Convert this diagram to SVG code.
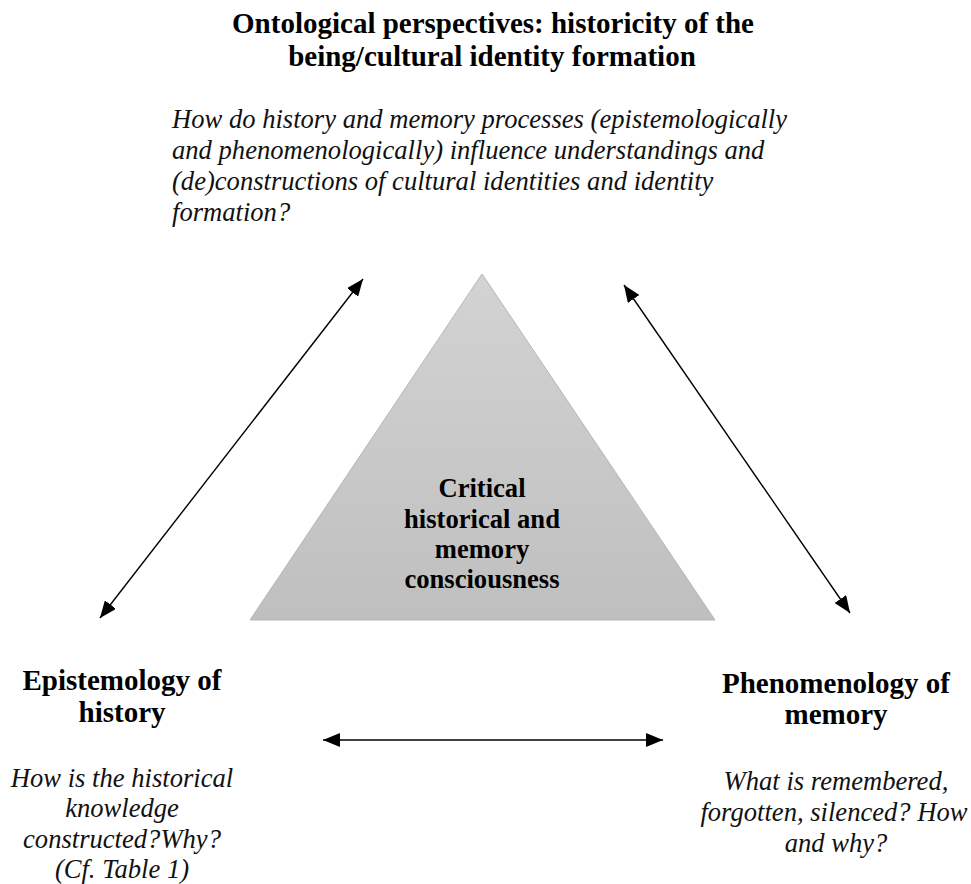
<svg xmlns="http://www.w3.org/2000/svg" width="971" height="884" viewBox="0 0 971 884">
<style>
.b{font-family:"Liberation Serif","Times New Roman",serif;font-weight:bold;fill:#000;text-anchor:middle}
.i{font-family:"Liberation Serif","Times New Roman",serif;font-style:italic;fill:#111}
.c{text-anchor:middle}
.ln{stroke:#000;stroke-width:1.4;fill:none}
</style>
<defs>
<linearGradient id="g" x1="0" y1="0" x2="0" y2="1">
<stop offset="0" stop-color="#d3d3d3"/>
<stop offset="1" stop-color="#bfbfbf"/>
</linearGradient>
<marker id="ah" viewBox="0 0 17 14" refX="17" refY="7" markerWidth="17" markerHeight="14" markerUnits="userSpaceOnUse" orient="auto-start-reverse">
<path d="M0,0 L17,7 L0,14 z" fill="#000"/>
</marker>
</defs>
<rect width="971" height="884" fill="#fff"/>
<g id="ontology">
<text class="b" font-size="29" x="493" y="33">Ontological perspectives: historicity of the</text>
<text class="b" font-size="29" x="492" y="66">being/cultural identity formation</text>
<text class="i" font-size="26.6" x="172" y="128">How do history and memory processes (epistemologically</text>
<text class="i" font-size="26.6" x="172" y="159">and phenomenologically) influence understandings and</text>
<text class="i" font-size="26.6" x="172" y="190">(de)constructions of cultural identities and identity</text>
<text class="i" font-size="26.6" x="172" y="221">formation?</text>
</g>
<g id="consciousness">
<polygon points="482,274 715,620 250,620" fill="url(#g)" stroke="#b5b5b5" stroke-width="1"/>
<text class="b" font-size="26.6" x="482" y="497">Critical</text>
<text class="b" font-size="26.6" x="482" y="528">historical and</text>
<text class="b" font-size="26.6" x="482" y="558">memory</text>
<text class="b" font-size="26.6" x="482" y="588">consciousness</text>
</g>
<g id="epistemology">
<text class="b" font-size="29" x="122" y="690">Epistemology of</text>
<text class="b" font-size="29" x="122" y="722">history</text>
<text class="i c" font-size="26.6" x="122" y="787">How is the historical</text>
<text class="i c" font-size="26.6" x="122" y="817">knowledge</text>
<text class="i c" font-size="26.6" x="122" y="848">constructed?Why?</text>
<text class="i c" font-size="26.6" x="122" y="878">(Cf. Table 1)</text>
</g>
<g id="phenomenology">
<text class="b" font-size="29" x="836" y="693">Phenomenology of</text>
<text class="b" font-size="29" x="836" y="724">memory</text>
<text class="i c" font-size="26.6" x="836" y="790">What is remembered,</text>
<text class="i c" font-size="26.6" x="834" y="821">forgotten, silenced? How</text>
<text class="i c" font-size="26.6" x="836" y="852">and why?</text>
</g>
<g id="connectors">
<line class="ln" x1="100" y1="618" x2="363" y2="279" marker-start="url(#ah)" marker-end="url(#ah)"/>
<line class="ln" x1="624" y1="285" x2="850" y2="613" marker-start="url(#ah)" marker-end="url(#ah)"/>
<line class="ln" x1="323" y1="740" x2="663" y2="740" stroke-width="2" marker-start="url(#ah)" marker-end="url(#ah)"/>
</g>
</svg>
